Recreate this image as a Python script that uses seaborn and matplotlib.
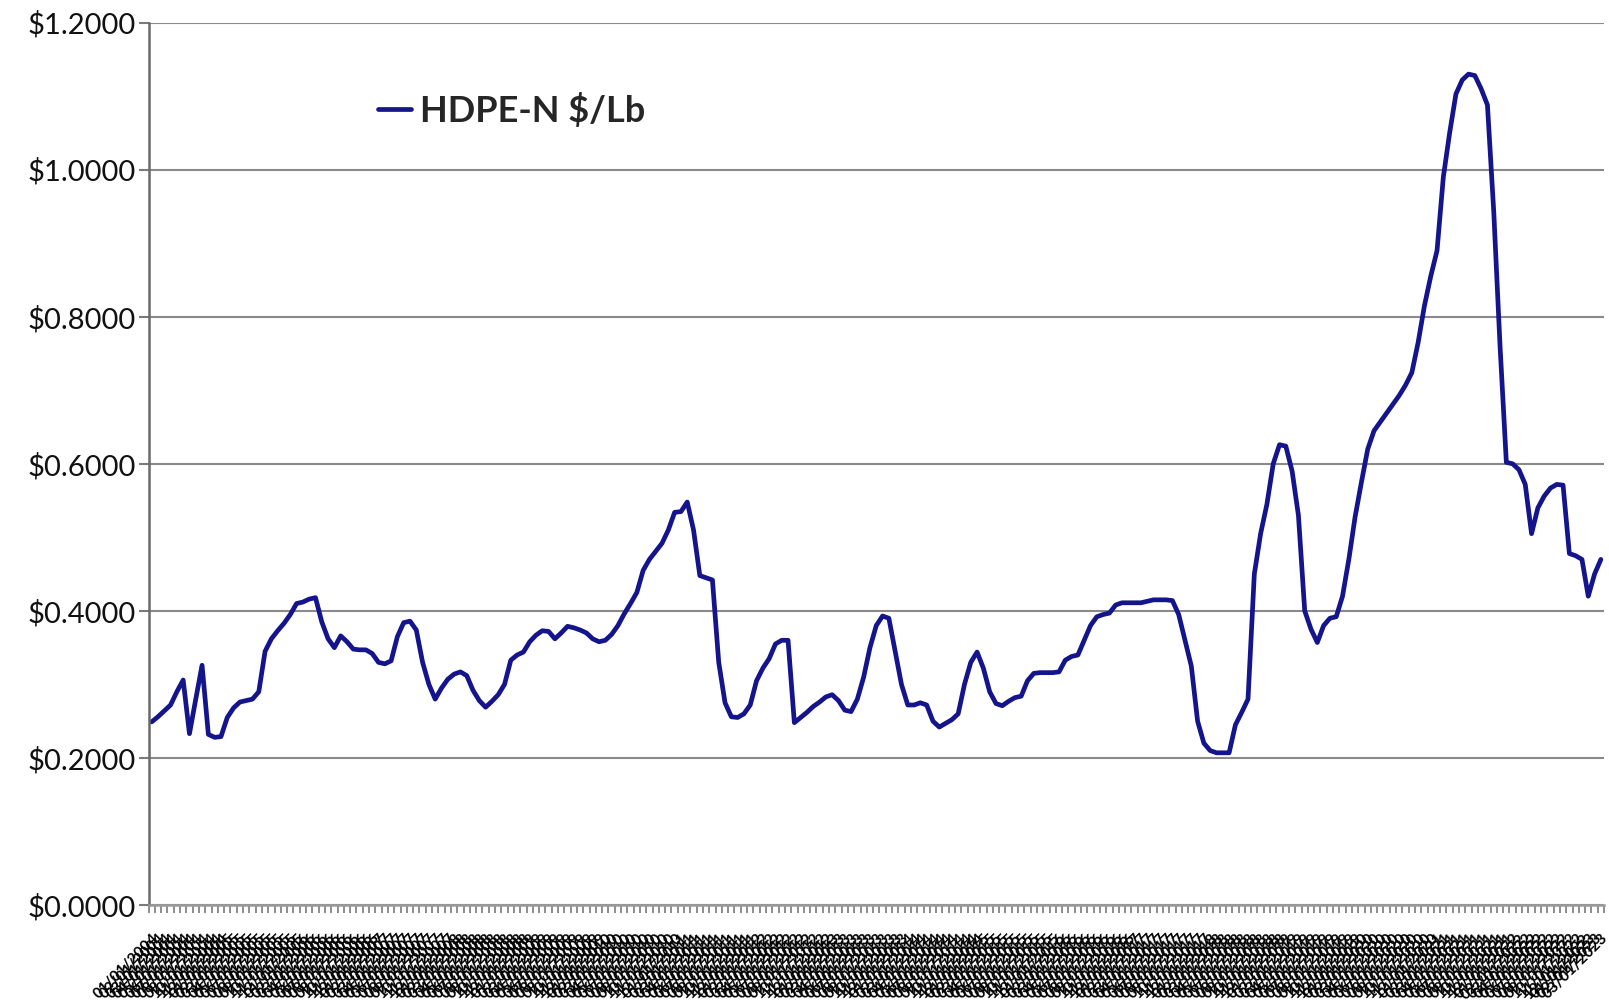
import matplotlib
matplotlib.use("Agg")
import matplotlib.pyplot as plt
import matplotlib.ticker as mticker
import seaborn as sns
import pandas as pd
import numpy as np

# ---- data ----
series_name = "HDPE-N $/Lb"
prices = [
    0.249, 0.256, 0.264, 0.272, 0.290, 0.306, 0.233, 0.280, 0.326, 0.232,
    0.228, 0.229, 0.255, 0.268, 0.276, 0.278, 0.280, 0.290, 0.345, 0.362,
    0.373, 0.383, 0.395, 0.410, 0.412, 0.416, 0.418, 0.385, 0.362, 0.350,
    0.366, 0.358, 0.348, 0.347, 0.347, 0.342, 0.330, 0.328, 0.332, 0.365,
    0.384, 0.386, 0.374, 0.330, 0.300, 0.280, 0.295, 0.307, 0.314, 0.317,
    0.312, 0.292, 0.278, 0.269, 0.277, 0.286, 0.300, 0.333, 0.340, 0.344,
    0.358, 0.367, 0.373, 0.372, 0.362, 0.370, 0.379, 0.377, 0.374, 0.370,
    0.362, 0.358, 0.360, 0.368, 0.380, 0.396, 0.410, 0.425, 0.455, 0.470,
    0.481, 0.492, 0.510, 0.534, 0.535, 0.548, 0.510, 0.448, 0.445, 0.442,
    0.330, 0.275, 0.256, 0.255, 0.260, 0.272, 0.305, 0.322, 0.335, 0.355,
    0.360, 0.360, 0.248, 0.255, 0.262, 0.270, 0.276, 0.283, 0.286, 0.278,
    0.265, 0.263, 0.280, 0.310, 0.350, 0.380, 0.393, 0.390, 0.345, 0.300,
    0.272, 0.272, 0.275, 0.272, 0.250, 0.242, 0.247, 0.252, 0.260, 0.300,
    0.330, 0.344, 0.322, 0.290, 0.274, 0.271, 0.277, 0.282, 0.284, 0.305,
    0.315, 0.316, 0.316, 0.316, 0.317, 0.333, 0.338, 0.340, 0.360, 0.380,
    0.392, 0.395, 0.397, 0.408, 0.411, 0.411, 0.411, 0.411, 0.413, 0.415,
    0.415, 0.415, 0.414, 0.395, 0.360, 0.325, 0.250, 0.220, 0.210, 0.207,
    0.207, 0.207, 0.245, 0.262, 0.280, 0.450, 0.505, 0.545, 0.600, 0.626,
    0.624, 0.590, 0.530, 0.400, 0.375, 0.357, 0.380, 0.390, 0.392, 0.420,
    0.470, 0.528, 0.575, 0.620, 0.645, 0.657, 0.669, 0.681, 0.693, 0.707,
    0.724, 0.765, 0.815, 0.855, 0.890, 0.990, 1.050, 1.103, 1.122, 1.130,
    1.128, 1.110, 1.088, 0.943, 0.760, 0.602, 0.600, 0.592, 0.572, 0.505,
    0.540, 0.556, 0.567, 0.572, 0.571, 0.478, 0.475, 0.470, 0.420, 0.450,
    0.470,
]
tick_labels = [d.strftime("%m/%d/%Y")
               for d in pd.date_range("2004-01-01", periods=len(prices), freq="MS")]
y_ticks = [0.0, 0.2, 0.4, 0.6, 0.8, 1.0, 1.2]

df = pd.DataFrame({"idx": np.arange(len(prices)), "price": prices,
                   "series": series_name})

# ---- style ----
sns.set_theme(style="white")
plt.rcParams["font.family"] = ["Lato", "DejaVu Sans"]

fig = plt.figure(figsize=(16.09, 10.06), dpi=100)
ax = fig.add_axes([0.0923, 0.1004, 0.9046, 0.8771])

sns.lineplot(data=df, x="idx", y="price", hue="series",
             palette=["#14148c"], linewidth=3.4, ax=ax)

n = len(prices)
ax.set_xlim(-0.5, n - 0.5)
ax.set_ylim(0, 1.2)

# gridlines
ax.set_yticks(y_ticks)
ax.yaxis.set_major_formatter(mticker.FuncFormatter(lambda v, p: f"${v:.4f}"))
ax.grid(axis="y", color="#8a8a8a", linewidth=1.5)
ax.set_axisbelow(True)

# category axis: tick marks at boundaries, labels at centres
ax.set_xticks(np.arange(-0.5, n, 1.0))
ax.set_xticklabels([])
ax.set_xticks(np.arange(n), minor=True)
ax.set_xticklabels(tick_labels, minor=True, rotation=45, ha="right",
                   rotation_mode="anchor", fontsize=11, color="#000000",
                   fontweight="bold")
ax.tick_params(axis="x", which="major", direction="out", length=6,
               width=1.2, color="#7a7a7a", bottom=True)
ax.tick_params(axis="x", which="minor", length=0, pad=19, bottom=True)
ax.tick_params(axis="y", direction="out", length=7, width=1.5,
               color="#7a7a7a", left=True, labelsize=21, labelcolor="#111111",
               pad=2)

for s in ["top", "right"]:
    ax.spines[s].set_visible(False)
ax.spines["left"].set_color("#6a6a6a")
ax.spines["left"].set_linewidth(1.8)
ax.spines["bottom"].set_color("#9a9a9a")
ax.spines["bottom"].set_linewidth(1.8)

ax.set_xlabel("")
ax.set_ylabel("")

leg = ax.legend(loc="upper left", bbox_to_anchor=(0.148, 0.937),
                frameon=False, prop={"size": 26, "weight": "bold"},
                handlelength=0.9, handletextpad=0.25, borderaxespad=0)
for h in leg.get_lines():
    h.set_linewidth(3.4)

fig.savefig("out.png", dpi=100)
